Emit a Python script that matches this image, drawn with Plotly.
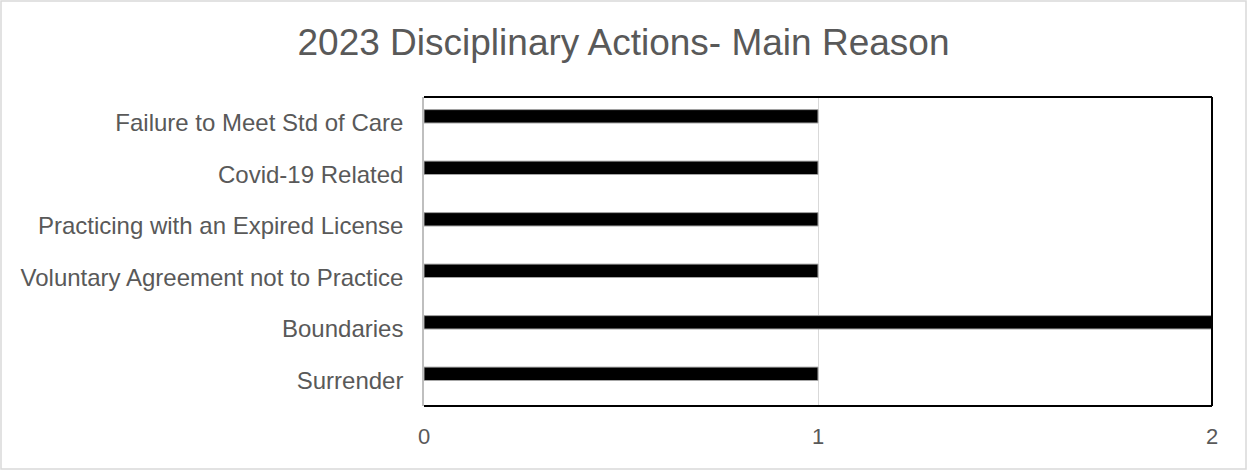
import plotly.graph_objects as go

categories = [
    "Failure to Meet Std of Care",
    "Covid-19 Related",
    "Practicing with an Expired License",
    "Voluntary Agreement not to Practice",
    "Boundaries",
    "Surrender",
]
counts = [1, 1, 1, 1, 2, 1]
x_ticks = [0, 1, 2]

W, H = 1247, 470
L, R, T, B = 424, 35, 97, 64
pw, ph = W - L - R, H - T - B

fig = go.Figure(go.Bar(
    x=counts, y=categories, orientation="h",
    marker=dict(color="#000000", line=dict(color="#a6a6a6", width=1)),
    width=0.26, offset=-0.255,
))

def px_x(px):
    return (px - L) / pw

def px_y(py):
    return (H - B - py) / ph

shapes = [
    dict(type="line", xref="paper", yref="paper", x0=0, x1=1, y0=1, y1=1,
         line=dict(color="#000000", width=2)),
    dict(type="line", xref="paper", yref="paper", x0=1, x1=1, y0=0, y1=1,
         line=dict(color="#000000", width=2)),
    dict(type="line", xref="paper", yref="paper", x0=0, x1=1, y0=0, y1=0,
         line=dict(color="#000000", width=2)),
    dict(type="rect", xref="paper", yref="paper",
         x0=px_x(1), x1=px_x(W - 1), y0=px_y(H - 1), y1=px_y(1),
         line=dict(color="#d9d9d9", width=1.5), layer="below"),
]

fig.update_layout(
    width=W, height=H,
    margin=dict(l=L, r=R, t=T, b=B, pad=0),
    paper_bgcolor="white", plot_bgcolor="white",
    font=dict(family="Liberation Sans, Arial, sans-serif", color="#595959", size=24),
    title=dict(text="2023 Disciplinary Actions- Main Reason",
               x=0.5, xanchor="center", y=1 - 42 / H, yanchor="middle",
               font=dict(size=37, color="#595959")),
    showlegend=False,
    shapes=shapes,
    xaxis=dict(range=[0, 2], tickvals=x_ticks, ticktext=[str(v) for v in x_ticks],
               showgrid=True, gridcolor="#d9d9d9", gridwidth=1,
               zeroline=False, showline=False, ticks="",
               ticklabelstandoff=15, fixedrange=True, tickfont=dict(size=22)),
    yaxis=dict(autorange="reversed", showgrid=False, zeroline=False,
               showline=True, linecolor="#bfbfbf", linewidth=1.5,
               ticks="", ticklabelstandoff=14, fixedrange=True),
)

fig.write_html("out.html", config={"displayModeBar": False},
               post_script="document.body.style.margin='0';")
